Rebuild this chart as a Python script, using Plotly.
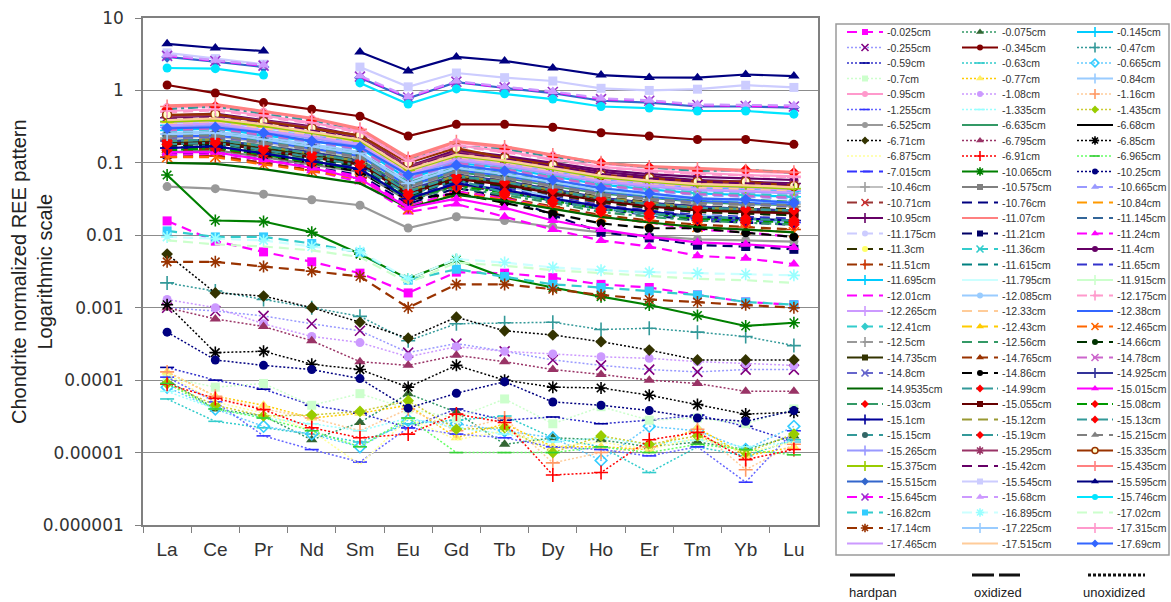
import plotly.graph_objects as go

W, H = 1171, 602

elements = ["La", "Ce", "Pr", "Nd", "Sm", "Eu", "Gd", "Tb", "Dy", "Ho", "Er", "Tm", "Yb", "Lu"]
y_tick_vals = [10, 1, 0.1, 0.01, 0.001, 0.0001, 0.00001, 0.000001]
y_tick_text = ["10", "1", "0.1", "0.01", "0.001", "0.0001", "0.00001", "0.000001"]

# Chondrite-normalised REE values, one list per sampling depth (La ... Lu)
d0_025 = [0.0158, 0.0083, 0.0059, 0.0043, 0.0030, 0.0016, 0.0031, 0.0030, 0.0026, 0.0021, 0.0019, 0.0015, 0.0012, 0.0011]
d0_075 = [0.00010, 0.000040, 0.000032, 0.000015, 0.000026, 0.000065, 0.000036, 0.000013, 0.000016, 0.000015, 0.000012, 0.000014, 0.000011, 0.000017]
d0_145 = [0.28, 0.30, 0.24, 0.20, 0.16, 0.060, 0.10, 0.085, 0.065, 0.050, 0.043, 0.038, 0.036, 0.034]
d0_255 = [0.0010, 0.00090, 0.00077, 0.00060, 0.00048, 0.00024, 0.00032, 0.00025, 0.00019, 0.00016, 0.00014, 0.00013, 0.00014, 0.00014]
d0_345 = [1.19, 0.92, 0.68, 0.55, 0.44, 0.235, 0.34, 0.34, 0.31, 0.26, 0.235, 0.21, 0.21, 0.18]
d0_47 = [0.0022, 0.0017, 0.0013, 0.0010, 0.00076, 0.00035, 0.00060, 0.00062, 0.00063, 0.00050, 0.00052, 0.00046, 0.00040, 0.00030]
d0_59 = [0.00015, 0.00010, 0.000075, 0.000045, 0.000035, 0.000022, 0.000040, 0.000028, 0.000031, 0.000025, 0.000028, 0.000033, 0.000023, 0.000014]
d0_63 = [0.000055, 0.000027, 0.000022, 0.000018, 0.000014, 0.000025, 0.000028, 0.000032, 0.000016, 0.000012, 0.0000053, 0.000012, 0.0000090, 0.000015]
d0_665 = [0.000080, 0.000040, 0.000023, 0.000018, 0.000012, 0.000028, 0.000025, 0.000020, 0.000016, 0.0000078, 0.000023, 0.000020, 0.000011, 0.000023]
d0_7 = [0.00011, 0.000080, 0.000090, 0.000045, 0.000065, 0.000040, 0.000030, 0.000055, 0.000025, 0.000043, 0.000028, 0.000030, 0.000025, 0.000040]
d0_77 = [0.00013, 0.000060, 0.000045, 0.000030, 0.000035, 0.000045, 0.000016, 0.000025, 0.000012, 0.000012, 0.000011, 0.000022, 0.0000090, 0.000012]
d0_84 = [0.25, 0.27, 0.22, 0.18, 0.14, 0.055, 0.090, 0.075, 0.058, 0.045, 0.038, 0.033, 0.031, 0.029]
d0_95 = [0.58, 0.60, 0.50, 0.40, 0.28, 0.11, 0.19, 0.16, 0.125, 0.097, 0.085, 0.080, 0.076, 0.072]
d1_08 = [0.0013, 0.0010, 0.00060, 0.00040, 0.00033, 0.00021, 0.00029, 0.00025, 0.00023, 0.00021, 0.00020, 0.00018, 0.00017, 0.00016]
d1_16 = [0.00013, 0.000060, 0.000040, 0.000030, 0.000020, 0.000040, 0.000020, 0.000030, 0.0000072, 0.000010, 0.000012, 0.000021, 0.0000058, 0.000013]
d1_255 = [0.00011, 0.000050, 0.000017, 0.000011, 0.0000074, 0.000022, 0.000018, 0.000016, 0.000012, 0.000011, 0.0000090, 0.000012, 0.0000039, 0.000020]
d1_335 = [0.000070, 0.000040, 0.000030, 0.000025, 0.000020, 0.000030, 0.000022, 0.000018, 0.000014, 0.000016, 0.000013, 0.000015, 0.000012, 0.000014]
d1_435 = [0.000090, 0.000045, 0.000032, 0.000033, 0.000037, 0.000052, 0.000021, 0.000022, 0.000010, 0.000017, 0.000013, 0.000017, 0.000010, 0.000018]
d6_525 = [0.047, 0.044, 0.037, 0.031, 0.026, 0.0126, 0.018, 0.016, 0.013, 0.011, 0.0098, 0.0088, 0.0085, 0.0082]
d6_635 = [0.20, 0.21, 0.17, 0.14, 0.11, 0.045, 0.075, 0.062, 0.048, 0.038, 0.033, 0.029, 0.027, 0.026]
d6_68 = [0.18, 0.19, 0.15, 0.12, 0.095, 0.038, 0.063, 0.053, 0.041, 0.032, 0.028, 0.024, 0.023, 0.022]
d6_71 = [0.0055, 0.0016, 0.00145, 0.0010, 0.00063, 0.00038, 0.00074, 0.00048, 0.00042, 0.00034, 0.00026, 0.00019, 0.00019, 0.00019]
d6_795 = [0.0010, 0.00070, 0.00055, 0.00035, 0.00018, 0.00016, 0.00022, 0.00018, 0.00014, 0.00012, 0.00010, 0.000090, 0.000070, 0.000070]
d6_85 = [0.0011, 0.00024, 0.00025, 0.000166, 0.00014, 0.000080, 0.00016, 0.00010, 0.000080, 0.000078, 0.000062, 0.000046, 0.000034, 0.000036]
d6_875 = [0.00012, 0.000050, 0.000035, 0.000020, 0.0000068, 0.000030, 0.000015, 0.000020, 0.000012, 0.000014, 0.000011, 0.000016, 0.000010, 0.000014]
d6_91 = [0.000088, 0.000056, 0.000039, 0.000022, 0.000016, 0.000018, 0.000034, 0.000026, 0.0000049, 0.0000053, 0.000015, 0.000019, 0.0000080, 0.000011]
d6_965 = [0.000090, 0.000040, 0.000030, 0.000020, 0.000012, 0.000030, 0.000010, 0.000010, 0.000010, 0.000012, 0.000010, 0.000013, 0.000011, 0.0000093]
d7_015 = [0.16, 0.17, 0.13, 0.10, 0.080, 0.030, 0.050, 0.040, 0.031, 0.024, 0.020, 0.017, 0.016, 0.015]
d10_065 = [0.068, 0.016, 0.0155, 0.011, 0.0055, 0.0025, 0.0046, 0.0026, 0.0019, 0.00142, 0.00109, 0.00078, 0.00056, 0.00062]
d10_25 = [0.00046, 0.00019, 0.00016, 0.00014, 0.000105, 0.000041, 0.000066, 0.000095, 0.000050, 0.000045, 0.000038, 0.000030, 0.000027, 0.000038]
d10_46 = [0.22, 0.23, 0.19, 0.15, 0.12, 0.050, 0.080, 0.066, 0.050, 0.040, 0.034, 0.030, 0.028, 0.027]
d10_575 = [0.14, 0.15, 0.12, 0.095, 0.075, 0.030, 0.050, 0.041, 0.032, 0.025, 0.021, 0.018, 0.017, 0.016]
d10_665 = [0.26, 0.28, 0.23, 0.19, 0.15, 0.060, 0.095, 0.080, 0.062, 0.048, 0.041, 0.036, 0.034, 0.032]
d10_71 = [0.17, 0.18, 0.14, 0.115, 0.090, 0.035, 0.058, 0.047, 0.036, 0.028, 0.024, 0.021, 0.020, 0.019]
d10_76 = [0.15, 0.16, 0.125, 0.10, 0.078, 0.030, 0.050, 0.040, 0.030, 0.023, 0.019, 0.016, 0.015, 0.014]
d10_84 = [0.32, 0.34, 0.28, 0.23, 0.18, 0.070, 0.115, 0.097, 0.075, 0.058, 0.050, 0.044, 0.042, 0.040]
d10_95 = [0.42, 0.45, 0.37, 0.30, 0.22, 0.085, 0.145, 0.12, 0.095, 0.075, 0.065, 0.058, 0.055, 0.052]
d11_07 = [0.62, 0.65, 0.52, 0.42, 0.30, 0.12, 0.20, 0.17, 0.13, 0.10, 0.090, 0.085, 0.080, 0.075]
d11_145 = [0.24, 0.25, 0.20, 0.165, 0.13, 0.050, 0.085, 0.070, 0.054, 0.042, 0.036, 0.031, 0.030, 0.028]
d11_175 = [0.30, 0.32, 0.26, 0.21, 0.165, 0.065, 0.105, 0.088, 0.068, 0.052, 0.045, 0.040, 0.038, 0.036]
d11_21 = [0.13, 0.14, 0.11, 0.088, 0.068, 0.027, 0.045, 0.034, 0.019, 0.011, 0.0092, 0.0073, 0.0070, 0.0064]
d11_24 = [0.13, 0.13, 0.10, 0.078, 0.055, 0.021, 0.027, 0.018, 0.012, 0.0085, 0.0070, 0.0052, 0.0048, 0.0040]
d11_3 = [0.20, 0.21, 0.17, 0.14, 0.11, 0.042, 0.070, 0.057, 0.044, 0.034, 0.029, 0.025, 0.024, 0.023]
d11_36 = [0.27, 0.29, 0.24, 0.20, 0.155, 0.062, 0.10, 0.084, 0.066, 0.051, 0.044, 0.039, 0.037, 0.035]
d11_4 = [0.45, 0.48, 0.39, 0.32, 0.235, 0.090, 0.15, 0.125, 0.10, 0.080, 0.070, 0.064, 0.061, 0.058]
d11_51 = [0.12, 0.125, 0.10, 0.080, 0.062, 0.025, 0.040, 0.033, 0.025, 0.019, 0.016, 0.014, 0.013, 0.012]
d11_615 = [0.19, 0.20, 0.16, 0.13, 0.10, 0.040, 0.066, 0.054, 0.042, 0.032, 0.027, 0.023, 0.022, 0.021]
d11_65 = [0.16, 0.17, 0.135, 0.11, 0.085, 0.033, 0.055, 0.045, 0.034, 0.026, 0.022, 0.019, 0.018, 0.017]
d11_695 = [0.33, 0.35, 0.29, 0.24, 0.19, 0.075, 0.12, 0.10, 0.078, 0.060, 0.052, 0.046, 0.044, 0.041]
d11_795 = [0.35, 0.37, 0.30, 0.25, 0.20, 0.078, 0.125, 0.105, 0.082, 0.064, 0.055, 0.049, 0.047, 0.044]
d11_915 = [0.38, 0.40, 0.33, 0.27, 0.21, 0.082, 0.13, 0.11, 0.086, 0.067, 0.058, 0.052, 0.049, 0.046]
d12_01 = [0.14, 0.14, 0.11, 0.087, 0.065, 0.025, 0.040, 0.032, 0.024, 0.018, 0.015, 0.012, 0.011, 0.0095]
d12_085 = [0.26, 0.27, 0.22, 0.18, 0.14, 0.047, 0.064, 0.049, 0.033, 0.025, 0.019, 0.019, 0.017, 0.0146]
d12_175 = [0.50, 0.53, 0.43, 0.35, 0.26, 0.10, 0.17, 0.14, 0.11, 0.087, 0.076, 0.070, 0.067, 0.063]
d12_265 = [0.36, 0.38, 0.31, 0.25, 0.195, 0.075, 0.12, 0.10, 0.079, 0.061, 0.053, 0.047, 0.045, 0.042]
d12_33 = [0.34, 0.36, 0.30, 0.24, 0.19, 0.072, 0.115, 0.097, 0.075, 0.058, 0.050, 0.045, 0.043, 0.040]
d12_38 = [0.23, 0.24, 0.20, 0.16, 0.125, 0.048, 0.080, 0.066, 0.051, 0.040, 0.034, 0.030, 0.028, 0.027]
d12_41 = [0.29, 0.31, 0.25, 0.20, 0.16, 0.062, 0.10, 0.083, 0.064, 0.050, 0.043, 0.038, 0.036, 0.034]
d12_43 = [0.38, 0.40, 0.33, 0.30, 0.21, 0.085, 0.135, 0.11, 0.088, 0.068, 0.059, 0.053, 0.050, 0.047]
d12_465 = [0.12, 0.12, 0.095, 0.077, 0.060, 0.023, 0.038, 0.031, 0.024, 0.018, 0.015, 0.013, 0.012, 0.011]
d12_5 = [0.21, 0.22, 0.18, 0.15, 0.115, 0.045, 0.073, 0.060, 0.047, 0.036, 0.031, 0.027, 0.026, 0.025]
d12_56 = [0.25, 0.26, 0.21, 0.17, 0.135, 0.053, 0.086, 0.071, 0.055, 0.043, 0.037, 0.032, 0.031, 0.029]
d14_66 = [0.17, 0.18, 0.145, 0.115, 0.090, 0.035, 0.058, 0.048, 0.037, 0.029, 0.024, 0.021, 0.020, 0.019]
d14_735 = [0.19, 0.20, 0.16, 0.13, 0.10, 0.040, 0.065, 0.053, 0.041, 0.032, 0.027, 0.023, 0.022, 0.021]
d14_765 = [0.15, 0.155, 0.125, 0.10, 0.078, 0.030, 0.050, 0.041, 0.032, 0.025, 0.021, 0.018, 0.017, 0.016]
d14_78 = [0.28, 0.30, 0.24, 0.20, 0.155, 0.060, 0.10, 0.082, 0.063, 0.049, 0.042, 0.037, 0.035, 0.033]
d14_8 = [0.22, 0.23, 0.19, 0.155, 0.12, 0.047, 0.077, 0.063, 0.049, 0.038, 0.032, 0.028, 0.027, 0.025]
d14_86 = [0.16, 0.17, 0.13, 0.10, 0.075, 0.031, 0.038, 0.028, 0.020, 0.0146, 0.0125, 0.0125, 0.0108, 0.0095]
d14_925 = [0.20, 0.21, 0.17, 0.14, 0.105, 0.042, 0.068, 0.056, 0.043, 0.033, 0.028, 0.025, 0.023, 0.022]
d14_9535 = [0.10, 0.097, 0.082, 0.066, 0.052, 0.024, 0.036, 0.030, 0.023, 0.018, 0.015, 0.013, 0.012, 0.011]
d14_99 = [0.55, 0.60, 0.47, 0.38, 0.27, 0.11, 0.17, 0.155, 0.12, 0.10, 0.087, 0.077, 0.080, 0.073]
d15_015 = [0.14, 0.14, 0.11, 0.085, 0.060, 0.024, 0.032, 0.024, 0.016, 0.012, 0.0095, 0.0080, 0.0075, 0.0068]
d15_03 = [0.16, 0.175, 0.14, 0.11, 0.080, 0.031, 0.046, 0.036, 0.028, 0.021, 0.018, 0.016, 0.015, 0.014]
d15_055 = [0.18, 0.19, 0.15, 0.12, 0.095, 0.037, 0.060, 0.050, 0.038, 0.030, 0.025, 0.022, 0.021, 0.020]
d15_08 = [0.15, 0.16, 0.13, 0.10, 0.080, 0.033, 0.048, 0.039, 0.030, 0.023, 0.020, 0.017, 0.016, 0.015]
d15_1 = [0.16, 0.17, 0.135, 0.105, 0.082, 0.032, 0.052, 0.042, 0.032, 0.025, 0.021, 0.018, 0.017, 0.016]
d15_12 = [0.20, 0.21, 0.17, 0.135, 0.105, 0.041, 0.067, 0.055, 0.042, 0.033, 0.028, 0.024, 0.023, 0.022]
d15_13 = [0.18, 0.19, 0.15, 0.12, 0.092, 0.036, 0.058, 0.039, 0.030, 0.023, 0.020, 0.018, 0.017, 0.016]
d15_15 = [0.24, 0.25, 0.20, 0.165, 0.13, 0.050, 0.083, 0.068, 0.053, 0.041, 0.035, 0.031, 0.030, 0.028]
d15_19 = [0.20, 0.21, 0.17, 0.135, 0.105, 0.040, 0.066, 0.054, 0.042, 0.032, 0.027, 0.024, 0.023, 0.022]
d15_215 = [0.23, 0.24, 0.19, 0.155, 0.12, 0.047, 0.076, 0.062, 0.048, 0.037, 0.032, 0.028, 0.027, 0.026]
d15_265 = [0.31, 0.33, 0.27, 0.22, 0.17, 0.066, 0.107, 0.090, 0.070, 0.054, 0.047, 0.042, 0.040, 0.038]
d15_295 = [0.43, 0.46, 0.38, 0.31, 0.23, 0.088, 0.14, 0.115, 0.090, 0.070, 0.060, 0.054, 0.052, 0.050]
d15_335 = [0.46, 0.47, 0.37, 0.30, 0.24, 0.10, 0.16, 0.117, 0.093, 0.068, 0.062, 0.055, 0.055, 0.048]
d15_375 = [0.37, 0.39, 0.32, 0.26, 0.20, 0.078, 0.125, 0.105, 0.082, 0.063, 0.055, 0.049, 0.047, 0.044]
d15_42 = [0.40, 0.42, 0.35, 0.28, 0.215, 0.083, 0.135, 0.113, 0.089, 0.070, 0.061, 0.055, 0.052, 0.050]
d15_435 = [0.60, 0.63, 0.51, 0.41, 0.29, 0.115, 0.195, 0.165, 0.128, 0.10, 0.088, 0.082, 0.078, 0.074]
d15_515 = [2.9, 2.5, 2.1, None, 1.5, 0.78, 1.3, 1.08, 0.92, 0.72, 0.68, 0.60, 0.60, 0.58]
d15_545 = [3.3, 2.75, 2.3, None, 2.1, 1.12, 1.74, 1.5, 1.35, 1.07, 1.0, 1.04, 1.18, 1.1]
d15_595 = [4.4, 3.85, 3.5, None, 3.4, 1.86, 2.9, 2.55, 2.04, 1.63, 1.51, 1.5, 1.66, 1.58]
d15_645 = [3.0, 2.55, 2.2, None, 1.55, 0.80, 1.32, 1.1, 0.95, 0.76, 0.72, 0.63, 0.61, 0.60]
d15_68 = [3.1, 2.6, 2.25, None, 1.6, 0.82, 1.35, 1.12, 0.97, 0.78, 0.73, 0.64, 0.63, 0.62]
d15_746 = [2.04, 2.0, 1.63, None, 1.27, 0.65, 1.05, 0.90, 0.76, 0.60, 0.57, 0.52, 0.52, 0.47]
d16_82 = [0.0115, 0.0095, 0.0095, 0.0077, 0.0058, 0.0024, 0.0034, 0.0027, 0.0021, 0.0019, 0.0017, 0.0015, 0.0012, 0.0011]
d16_895 = [0.0095, 0.0090, 0.0085, 0.0070, 0.0060, 0.0025, 0.0047, 0.0042, 0.0036, 0.0033, 0.0031, 0.0030, 0.0029, 0.0028]
d17_02 = [0.0085, 0.0075, 0.0070, 0.0062, 0.0050, 0.0022, 0.0042, 0.0038, 0.0033, 0.0030, 0.0027, 0.0025, 0.0024, 0.0022]
d17_14 = [0.0043, 0.0043, 0.0037, 0.0032, 0.0027, 0.0010, 0.0021, 0.0021, 0.0018, 0.0015, 0.0013, 0.0012, 0.0011, 0.0010]
d17_225 = [0.25, 0.26, 0.21, 0.17, 0.135, 0.052, 0.085, 0.070, 0.054, 0.042, 0.036, 0.032, 0.030, 0.028]
d17_315 = [0.52, 0.55, 0.45, 0.36, 0.27, 0.105, 0.175, 0.145, 0.113, 0.088, 0.078, 0.072, 0.068, 0.065]
d17_465 = [0.33, 0.35, 0.28, 0.23, 0.18, 0.070, 0.112, 0.094, 0.073, 0.056, 0.049, 0.043, 0.041, 0.039]
d17_515 = [0.39, 0.41, 0.34, 0.27, 0.21, 0.081, 0.13, 0.108, 0.085, 0.066, 0.057, 0.051, 0.049, 0.046]
d17_69 = [0.30, 0.31, 0.26, 0.20, 0.165, 0.068, 0.093, 0.077, 0.058, 0.045, 0.038, 0.032, 0.031, 0.028]

samples = [
    ("-0.025cm", d0_025), ("-0.075cm", d0_075), ("-0.145cm", d0_145),
    ("-0.255cm", d0_255), ("-0.345cm", d0_345), ("-0.47cm", d0_47),
    ("-0.59cm", d0_59), ("-0.63cm", d0_63), ("-0.665cm", d0_665),
    ("-0.7cm", d0_7), ("-0.77cm", d0_77), ("-0.84cm", d0_84),
    ("-0.95cm", d0_95), ("-1.08cm", d1_08), ("-1.16cm", d1_16),
    ("-1.255cm", d1_255), ("-1.335cm", d1_335), ("-1.435cm", d1_435),
    ("-6.525cm", d6_525), ("-6.635cm", d6_635), ("-6.68cm", d6_68),
    ("-6.71cm", d6_71), ("-6.795cm", d6_795), ("-6.85cm", d6_85),
    ("-6.875cm", d6_875), ("-6.91cm", d6_91), ("-6.965cm", d6_965),
    ("-7.015cm", d7_015), ("-10.065cm", d10_065), ("-10.25cm", d10_25),
    ("-10.46cm", d10_46), ("-10.575cm", d10_575), ("-10.665cm", d10_665),
    ("-10.71cm", d10_71), ("-10.76cm", d10_76), ("-10.84cm", d10_84),
    ("-10.95cm", d10_95), ("-11.07cm", d11_07), ("-11.145cm", d11_145),
    ("-11.175cm", d11_175), ("-11.21cm", d11_21), ("-11.24cm", d11_24),
    ("-11.3cm", d11_3), ("-11.36cm", d11_36), ("-11.4cm", d11_4),
    ("-11.51cm", d11_51), ("-11.615cm", d11_615), ("-11.65cm", d11_65),
    ("-11.695cm", d11_695), ("-11.795cm", d11_795), ("-11.915cm", d11_915),
    ("-12.01cm", d12_01), ("-12.085cm", d12_085), ("-12.175cm", d12_175),
    ("-12.265cm", d12_265), ("-12.33cm", d12_33), ("-12.38cm", d12_38),
    ("-12.41cm", d12_41), ("-12.43cm", d12_43), ("-12.465cm", d12_465),
    ("-12.5cm", d12_5), ("-12.56cm", d12_56), ("-14.66cm", d14_66),
    ("-14.735cm", d14_735), ("-14.765cm", d14_765), ("-14.78cm", d14_78),
    ("-14.8cm", d14_8), ("-14.86cm", d14_86), ("-14.925cm", d14_925),
    ("-14.9535cm", d14_9535), ("-14.99cm", d14_99), ("-15.015cm", d15_015),
    ("-15.03cm", d15_03), ("-15.055cm", d15_055), ("-15.08cm", d15_08),
    ("-15.1cm", d15_1), ("-15.12cm", d15_12), ("-15.13cm", d15_13),
    ("-15.15cm", d15_15), ("-15.19cm", d15_19), ("-15.215cm", d15_215),
    ("-15.265cm", d15_265), ("-15.295cm", d15_295), ("-15.335cm", d15_335),
    ("-15.375cm", d15_375), ("-15.42cm", d15_42), ("-15.435cm", d15_435),
    ("-15.515cm", d15_515), ("-15.545cm", d15_545), ("-15.595cm", d15_595),
    ("-15.645cm", d15_645), ("-15.68cm", d15_68), ("-15.746cm", d15_746),
    ("-16.82cm", d16_82), ("-16.895cm", d16_895), ("-17.02cm", d17_02),
    ("-17.14cm", d17_14), ("-17.225cm", d17_225), ("-17.315cm", d17_315),
    ("-17.465cm", d17_465), ("-17.515cm", d17_515), ("-17.69cm", d17_69),
]

# line colour, horizon type (h=hardpan, o=oxidized, x=oxidized dash-dot, u=unoxidized),
# marker kind, marker colour
STYLE = {
    "-0.025cm": ("#FF00FF", "o", "square", "#FF00FF"),
    "-0.075cm": ("#339966", "u", "tri", "#336633"),
    "-0.145cm": ("#00CCFF", "h", "plus", "#00CCFF"),
    "-0.255cm": ("#9999FF", "u", "x", "#800080"),
    "-0.345cm": ("#800000", "h", "circle", "#800000"),
    "-0.47cm": ("#339999", "u", "plus", "#339999"),
    "-0.59cm": ("#3333CC", "u", "dash", "#000099"),
    "-0.63cm": ("#33CCCC", "u", "dash", "#33CCCC"),
    "-0.665cm": ("#66CCFF", "u", "odiamond", "#33CCFF"),
    "-0.7cm": ("#CCFFCC", "u", "square", "#CCFFCC"),
    "-0.77cm": ("#FFCC00", "u", "tri", "#FFEE66"),
    "-0.84cm": ("#99CCFF", "h", "plus", "#99CCFF"),
    "-0.95cm": ("#FF99CC", "h", "circle", "#FF99CC"),
    "-1.08cm": ("#CC99FF", "u", "circle", "#CC99FF"),
    "-1.16cm": ("#FFCC99", "u", "plus", "#FF9966"),
    "-1.255cm": ("#6666FF", "u", "dash", "#3333FF"),
    "-1.335cm": ("#99FFFF", "u", "dash", "#99FFFF"),
    "-1.435cm": ("#CCCC33", "u", "diamond", "#99CC00"),
    "-6.525cm": ("#999999", "h", "circle", "#999999"),
    "-6.635cm": ("#339966", "h", None, None),
    "-6.68cm": ("#000000", "h", None, None),
    "-6.71cm": ("#000000", "u", "diamond", "#333300"),
    "-6.795cm": ("#993366", "u", "tri", "#993366"),
    "-6.85cm": ("#000000", "u", "star", "#000000"),
    "-6.875cm": ("#FFFF99", "u", None, None),
    "-6.91cm": ("#FF0000", "u", "plus", "#FF0000"),
    "-6.965cm": ("#66FF66", "u", "dash", "#33CC33"),
    "-7.015cm": ("#3333FF", "o", "dash", "#3333FF"),
    "-10.065cm": ("#008000", "h", "star", "#008000"),
    "-10.25cm": ("#000080", "u", "circle", "#000080"),
    "-10.46cm": ("#C0C0C0", "h", "plus", "#A0A0A0"),
    "-10.575cm": ("#808080", "h", "square", "#808080"),
    "-10.665cm": ("#9999FF", "o", "tri", "#9999FF"),
    "-10.71cm": ("#993333", "o", "x", "#CC3333"),
    "-10.76cm": ("#000080", "o", None, None),
    "-10.84cm": ("#FF9900", "o", None, None),
    "-10.95cm": ("#660066", "h", "plus", "#660066"),
    "-11.07cm": ("#FF8080", "h", None, None),
    "-11.145cm": ("#336699", "o", None, None),
    "-11.175cm": ("#CCCCFF", "o", "circle", "#CCCCFF"),
    "-11.21cm": ("#000066", "o", "square", "#000066"),
    "-11.24cm": ("#FF00FF", "o", "tri", "#FF00FF"),
    "-11.3cm": ("#333300", "o", "circle", "#FFFF66"),
    "-11.36cm": ("#33CCCC", "o", "x", "#33CCCC"),
    "-11.4cm": ("#660066", "h", "circle", "#660066"),
    "-11.51cm": ("#993300", "o", "plus", "#CC3300"),
    "-11.615cm": ("#008080", "o", None, None),
    "-11.65cm": ("#3333CC", "o", None, None),
    "-11.695cm": ("#00CCFF", "h", "plus", "#00CCFF"),
    "-11.795cm": ("#CCFFFF", "h", None, None),
    "-11.915cm": ("#CCFFCC", "h", "plus", "#CCFFCC"),
    "-12.01cm": ("#FF00FF", "o", None, None),
    "-12.085cm": ("#99CCFF", "h", "circle", "#99CCFF"),
    "-12.175cm": ("#FF99CC", "o", "plus", "#FF99CC"),
    "-12.265cm": ("#CC99FF", "h", "plus", "#CC99FF"),
    "-12.33cm": ("#FFCC99", "o", None, None),
    "-12.38cm": ("#3366FF", "h", None, None),
    "-12.41cm": ("#33CCCC", "o", "diamond", "#33CCCC"),
    "-12.43cm": ("#FFCC00", "o", "tri", "#FFCC00"),
    "-12.465cm": ("#FF6600", "o", "x", "#FF6600"),
    "-12.5cm": ("#999999", "o", "plus", "#999999"),
    "-12.56cm": ("#339966", "o", None, None),
    "-14.66cm": ("#003300", "o", "circle", "#003300"),
    "-14.735cm": ("#333300", "h", "square", "#333300"),
    "-14.765cm": ("#993300", "o", "tri", "#993300"),
    "-14.78cm": ("#CC66CC", "o", "x", "#CC66CC"),
    "-14.8cm": ("#6666CC", "o", "x", "#6666CC"),
    "-14.86cm": ("#000000", "o", "circle", "#000000"),
    "-14.925cm": ("#333399", "h", "plus", "#333399"),
    "-14.9535cm": ("#006600", "h", None, None),
    "-14.99cm": ("#339999", "x", "diamond", "#FF0000"),
    "-15.015cm": ("#FF00FF", "h", "tri", "#FF00FF"),
    "-15.03cm": ("#339966", "x", "diamond", "#FF0000"),
    "-15.055cm": ("#660000", "h", "square", "#660000"),
    "-15.08cm": ("#009900", "x", "diamond", "#FF0000"),
    "-15.1cm": ("#000099", "h", "plus", "#000099"),
    "-15.12cm": ("#999933", "o", None, None),
    "-15.13cm": ("#339999", "x", "diamond", "#FF0000"),
    "-15.15cm": ("#339999", "o", "circle", "#336666"),
    "-15.19cm": ("#339999", "x", "diamond", "#FF0000"),
    "-15.215cm": ("#808080", "o", "tri", "#808080"),
    "-15.265cm": ("#9999FF", "h", "plus", "#9999FF"),
    "-15.295cm": ("#993366", "h", "star", "#993366"),
    "-15.335cm": ("#993300", "h", "ocircle", "#FFFFCC"),
    "-15.375cm": ("#99CC00", "h", "plus", "#99CC00"),
    "-15.42cm": ("#660066", "o", None, None),
    "-15.435cm": ("#FF8080", "h", "plus", "#FF8080"),
    "-15.515cm": ("#3366CC", "h", "diamond", "#3366CC"),
    "-15.545cm": ("#CCCCFF", "h", "square", "#CCCCFF"),
    "-15.595cm": ("#000080", "h", "tri", "#000080"),
    "-15.645cm": ("#FF00FF", "o", "x", "#9933CC"),
    "-15.68cm": ("#CC99FF", "o", "tri", "#CC99FF"),
    "-15.746cm": ("#00E5FF", "h", "circle", "#00E5FF"),
    "-16.82cm": ("#33CCCC", "o", "square", "#33CCFF"),
    "-16.895cm": ("#CCFFFF", "o", "star", "#99FFFF"),
    "-17.02cm": ("#CCFFCC", "o", None, None),
    "-17.14cm": ("#993300", "o", "star", "#993300"),
    "-17.225cm": ("#99CCFF", "h", "plus", "#99CCFF"),
    "-17.315cm": ("#FF99CC", "h", "plus", "#FF99CC"),
    "-17.465cm": ("#CC99FF", "h", None, None),
    "-17.515cm": ("#FFCC99", "h", None, None),
    "-17.69cm": ("#3366FF", "h", "diamond", "#3366FF"),
}

DASH = {"h": "solid", "o": "10px,6px", "x": "10px,4px,3px,4px", "u": "2px,2px"}
WIDTH = {"h": 2.2, "o": 2.2, "x": 2.2, "u": 1.5}
SYMBOL = {"square": "square", "tri": "triangle-up", "circle": "circle", "diamond": "diamond",
          "x": "x-thin-open", "star": "asterisk-open", "plus": "cross-thin-open",
          "dash": "line-ew-open", "odiamond": "diamond-open", "ocircle": "circle"}
SIZE_BOOST = {"tri": 1, "x": 1, "star": 1, "plus": 1, "dash": 1}


def marker_style(kind, mcolor, lcolor, size):
    if kind is None:
        return dict(size=0, opacity=0)
    s = size + SIZE_BOOST.get(kind, 0)
    if kind == "ocircle":
        return dict(symbol="circle", size=s, color=mcolor, line=dict(color=lcolor, width=1.5))
    if SYMBOL[kind].endswith("-open"):
        return dict(symbol=SYMBOL[kind], size=s, color=mcolor, line=dict(width=1.6))
    return dict(symbol=SYMBOL[kind], size=s, color=mcolor, line=dict(width=0))


fig = go.Figure()

# REE patterns on the main log axes
for label, vals in samples:
    lc, kind, mk, mc = STYLE[label]
    fig.add_trace(go.Scatter(
        x=elements, y=vals, name=label,
        mode="lines+markers" if mk else "lines",
        line=dict(color=lc, width=WIDTH[kind], dash=DASH[kind]),
        marker=marker_style(mk, mc, lc, 9),
        connectgaps=False, showlegend=False, hoverinfo="name+y",
        xaxis="x", yaxis="y",
    ))

# Key box on a pixel-scaled helper axis pair
COL_LINE_X = [847, 962, 1077]
COL_TEXT_X = [886, 1001, 1116]
ROW0_Y, ROW_STEP = 32, 15.5
SAMPLE_LEN = 36

annotations = []
for i, (label, _) in enumerate(samples):
    lc, kind, mk, mc = STYLE[label]
    r, c = divmod(i, 3)
    y = ROW0_Y + r * ROW_STEP
    x0 = COL_LINE_X[c]
    fig.add_trace(go.Scatter(
        x=[x0, x0 + SAMPLE_LEN / 2, x0 + SAMPLE_LEN], y=[y, y, y],
        mode="lines+markers" if mk else "lines",
        line=dict(color=lc, width=WIDTH[kind], dash=DASH[kind]),
        marker={**marker_style(mk, mc, lc, 6), "opacity": [0, 1, 0]} if mk else dict(size=0),
        showlegend=False, hoverinfo="skip", xaxis="x2", yaxis="y2", cliponaxis=False,
    ))
    annotations.append(dict(
        x=COL_TEXT_X[c], y=y, xref="x2", yref="y2", text=label, showarrow=False,
        xanchor="left", yanchor="middle", borderpad=0,
        font=dict(family="Liberation Sans", size=10.5, color="#333333"),
    ))

shapes = [
    dict(type="rect", xref="x2", yref="y2", x0=836, x1=1169, y0=24, y1=555,
         line=dict(color="#9a9a9a", width=1.5), fillcolor="rgba(0,0,0,0)", layer="below"),
]

# horizon line-style key under the box
key_items = [("hardpan", "solid", 850, 895, 873),
             ("oxidized", "22px,5px", 972, 1020, 998),
             ("unoxidized", "3px,2px", 1088, 1145, 1114)]
for text, dash, xa, xb, xt in key_items:
    shapes.append(dict(type="line", xref="x2", yref="y2", x0=xa, x1=xb, y0=575, y1=575,
                       line=dict(color="#111111", width=3, dash=dash)))
    annotations.append(dict(x=xt, y=592, xref="x2", yref="y2", text=text, showarrow=False,
                            xanchor="center", yanchor="middle", borderpad=0,
                            font=dict(family="Liberation Sans", size=13, color="#222222")))

# y-axis title
annotations.append(dict(
    x=32 / W, y=1 - 272 / H, xref="paper", yref="paper",
    text="Chondrite normalized REE pattern<br>Logarithmic scale",
    textangle=-90, showarrow=False, xanchor="center", yanchor="middle",
    font=dict(family="Liberation Sans", size=20, color="#222222"),
))

fig.update_layout(
    width=W, height=H,
    margin=dict(l=0, r=0, t=0, b=0, pad=0),
    paper_bgcolor="white", plot_bgcolor="rgba(0,0,0,0)",
    showlegend=False,
    xaxis=dict(
        domain=[143 / W, 818 / W], anchor="y", type="category",
        categoryorder="array", categoryarray=elements, range=[-0.5, 13.5],
        tickson="boundaries", ticks="outside", ticklen=6, tickwidth=1.3, tickcolor="#808080",
        showline=True, linecolor="#808080", linewidth=1.6, mirror=True,
        showgrid=False, zeroline=False, fixedrange=True, automargin=False,
        tickfont=dict(family="Liberation Sans", size=19, color="#333333"),
        ticklabelstandoff=6,
    ),
    yaxis=dict(
        domain=[1 - 525 / H, 1 - 18 / H], anchor="x", type="log", range=[-6, 1],
        tickvals=y_tick_vals, ticktext=y_tick_text,
        ticks="outside", ticklen=6, tickwidth=1.3, tickcolor="#808080",
        showline=True, linecolor="#808080", linewidth=1.6, mirror=True,
        showgrid=True, gridcolor="#8c8c8c", gridwidth=1.3,
        zeroline=False, fixedrange=True, automargin=False,
        tickfont=dict(family="DejaVu Sans", size=17, color="#333333"),
        ticklabelstandoff=8,
    ),
    xaxis2=dict(domain=[0, 1], anchor="y2", range=[0, W], visible=False, fixedrange=True),
    yaxis2=dict(domain=[0, 1], anchor="x2", range=[H, 0], visible=False, fixedrange=True),
    shapes=shapes,
    annotations=annotations,
)

fig.write_html("out.html")
